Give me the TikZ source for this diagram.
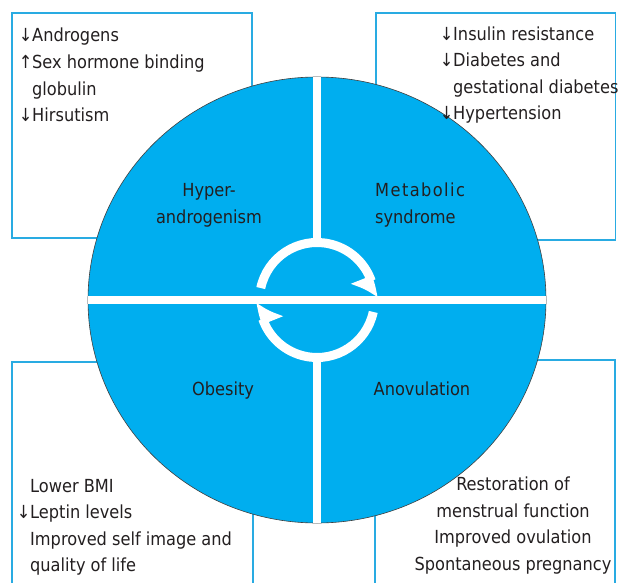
\documentclass[tikz,border=0pt]{standalone}
\usepackage{fontspec}
\setmainfont{DejaVu Sans Condensed}
\usetikzlibrary{arrows.meta,bending}

\definecolor{cyclefill}{RGB}{0,174,239}
\definecolor{boxline}{RGB}{41,171,226}
\definecolor{labeltext}{RGB}{35,31,32}

\newcommand{\arrdown}{\makebox[13pt][c]{↓}}
\newcommand{\arrup}{\makebox[13pt][c]{↑}}
\newcommand{\arrnone}{\hspace*{13pt}}

\begin{document}
\begin{tikzpicture}[x=1pt,y=-1pt,
  every node/.style={text=labeltext,font=\fontsize{18}{26.5}\selectfont,inner sep=0pt},
  effectbox/.style={draw=boxline,line width=1.6pt,fill=white},
  whitebar/.style={draw=white,line width=7.5pt},
  cyclearrow/.style={draw=white,line width=9pt,-{Triangle[harpoon,swap,width=38pt,length=20pt,bend]}}]
\useasboundingbox (0,0) rectangle (618,583);
% effect boxes, behind the circle
\draw[effectbox] (12,13) rectangle (252,238);
\draw[effectbox] (376,13) rectangle (615.5,240);
\draw[effectbox] (12,584) -- (12,362) -- (253,362) -- (253,584);
\draw[effectbox] (375,584) -- (375,360) -- (615,360) -- (615,584);
% the circle and its quarters
\coordinate (hub) at (317,300);
\draw[fill=cyclefill,draw=black!75,line width=0.6pt] (hub) ellipse [x radius=229,y radius=223];
\coordinate (bartop) at (317,77);
\coordinate (barupper) at (317,239);
\coordinate (barlower) at (317,361);
\coordinate (barbot) at (317,523);
\coordinate (barleft) at (88,300);
\coordinate (barright) at (546,300);
\draw[whitebar] (bartop) -- (barupper);
\draw[whitebar] (barlower) -- (barbot);
\draw[whitebar] (barleft) -- (barright);
% cycle arrows
\draw[cyclearrow] ([shift={(-168:57.5)}]hub) arc[start angle=-168,end angle=-2,radius=57.5];
\draw[cyclearrow] ([shift={(12:57.5)}]hub) arc[start angle=12,end angle=178,radius=57.5];
% quarter labels (base = last line)
\node[align=center,anchor=base] (hyper) at (209,223) {Hyper-\\androgenism};
\node[align=left,anchor=base west] (metab) at (375,223) {{\addfontfeature{LetterSpace=8}Metabolic}\\syndrome};
\node[anchor=base] (obes) at (223,395) {Obesity};
\node[anchor=base] (anov) at (422,395) {Anovulation};
% effect texts
\node[align=left,anchor=base west] (androtxt) at (19,121.5) {\arrdown Androgens\\\arrup Sex hormone binding\\\arrnone globulin\\\arrdown Hirsutism};
\node[align=left,anchor=base west] (metabtxt) at (440,120) {\arrdown Insulin resistance\\\arrdown Diabetes and\\\arrnone gestational diabetes\\\arrdown Hypertension};
\node[align=left,anchor=base west] (obestxt) at (17,571.5) {\arrnone Lower BMI\\\arrdown Leptin levels\\\arrnone Improved self image and\\\arrnone quality of life};
\node[align=center,anchor=base] (anovtxt) at (513,570) {Restoration of\\menstrual function\\Improved ovulation\\Spontaneous pregnancy};
\end{tikzpicture}
\end{document}
